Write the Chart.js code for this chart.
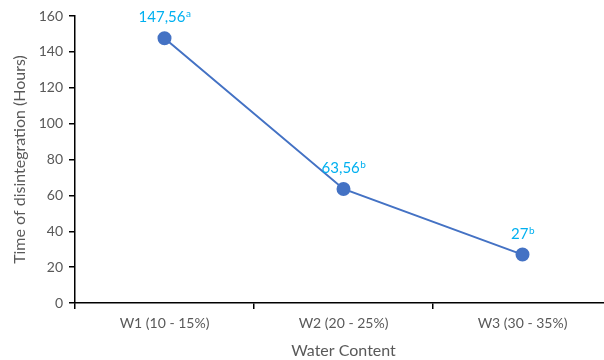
<!DOCTYPE html>
<html>
<head>
<meta charset="utf-8">
<script src="https://cdn.jsdelivr.net/npm/chart.js@4.4.0/dist/chart.umd.min.js"></script>
<style>
    html, body { margin: 0; padding: 0; background: #fff; overflow: hidden; }
    #wrap { width: 620px; height: 360px; }
</style>
</head>
<body>
<div id="wrap"><canvas id="chart1" width="620" height="360"></canvas></div>
<script>
const categorias = ["W1 (10 - 15%)", "W2 (20 - 25%)", "W3 (30 - 35%)"];
const tempos = [147.56, 63.56, 27];
const rotulos = ["147,56", "63,56", "27"];
const letras = ["a", "b", "b"];
const ticksY = [0, 20, 40, 60, 80, 100, 120, 140, 160];

const fonte = "Lato, 'Liberation Sans', sans-serif";

// rótulos de dados com letra sobrescrita
const rotulosPlugin = {
    id: 'rotulos',
    afterDatasetsDraw(chart) {
        const ctx = chart.ctx;
        const meta = chart.getDatasetMeta(0);
        ctx.save();
        ctx.fillStyle = '#00b0f0';
        ctx.textBaseline = 'alphabetic';
        meta.data.forEach((ponto, i) => {
            ctx.font = '15px ' + fonte;
            const w1 = ctx.measureText(rotulos[i]).width;
            ctx.font = '10px ' + fonte;
            const w2 = ctx.measureText(letras[i]).width;
            const x0 = ponto.x - (w1 + w2) / 2;
            const y0 = ponto.y - 16;
            ctx.font = '15px ' + fonte;
            ctx.textAlign = 'left';
            ctx.fillText(rotulos[i], x0, y0);
            ctx.font = '10px ' + fonte;
            ctx.fillText(letras[i], x0 + w1 + 0.5, y0 - 5);
        });
        ctx.restore();
    }
};

var ctx1 = document.getElementById("chart1").getContext("2d");
var chart1 = new Chart(ctx1, {
    type: "line",
    data: {
        labels: categorias,
        datasets: [{
            data: tempos,
            borderColor: "#4472c4",
            backgroundColor: "#4472c4",
            borderWidth: 2,
            pointRadius: 6,
            pointHoverRadius: 6,
            tension: 0
        }]
    },
    options: {
        responsive: false,
        animation: false,
        layout: { padding: { left: 0, right: 8, top: 16, bottom: 0 } },
        plugins: {
            legend: { display: false },
            tooltip: { enabled: false }
        },
        scales: {
            x: {
                offset: true,
                grid: { offset: true, drawOnChartArea: false, drawTicks: true, tickLength: 6, color: '#000', lineWidth: 1.5 },
                border: { color: '#000', width: 1.5 },
                ticks: { color: '#595959', font: { family: fonte, size: 14 }, padding: 6, maxRotation: 0 },
                title: { display: true, text: 'Water Content', color: '#595959', font: { family: fonte, size: 16 }, padding: { top: 4, bottom: 0 } },
                afterFit(scale) { scale.height = 57; }
            },
            y: {
                min: 0,
                max: 160,
                afterBuildTicks(scale) { scale.ticks = ticksY.map(v => ({ value: v })); },
                grid: { drawOnChartArea: false, drawTicks: true, tickLength: 6, color: '#000', lineWidth: 1.5 },
                border: { color: '#000', width: 1.5 },
                ticks: { color: '#595959', font: { family: fonte, size: 14 }, padding: 6 },
                title: { display: true, text: 'Time of disintegration (Hours)', color: '#595959', font: { family: fonte, size: 16 }, padding: { top: 10, bottom: 4 } },
                afterFit(scale) { scale.width = 75; }
            }
        }
    },
    plugins: [rotulosPlugin]
});
</script>
</body>
</html>
